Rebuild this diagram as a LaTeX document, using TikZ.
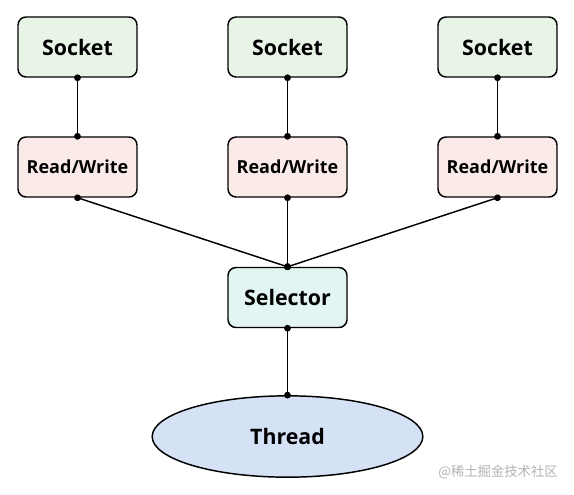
\documentclass[tikz,border=0pt]{standalone}
\usepackage{fontspec}
\setmainfont{Open Sans}
\newfontfamily\cjkfont{Noto Sans CJK SC}
\usepackage{tikz}
\usetikzlibrary{shapes.geometric, arrows.meta}

\definecolor{sockfill}{HTML}{E7F4E6}
\definecolor{rwfill}{HTML}{FBEBE8}
\definecolor{selfill}{HTML}{E3F5F3}
\definecolor{thrfill}{HTML}{D5E1F4}

\tikzset{
    box/.style={draw, line width=1.1pt, rounded corners=6pt, minimum width=89.25pt, minimum height=45pt, font=\bfseries},
    wire/.style={line width=1.1pt, {Circle[length=5pt]}-{Circle[length=5pt]}, shorten <=-2.5pt, shorten >=-2.5pt}
}

\begin{document}
\begin{tikzpicture}[x=0.75pt, y=-0.75pt]
        \useasboundingbox (0, 0) rectangle (574, 494);
        % Nodes:
        \node[box, fill=sockfill, font=\bfseries\fontsize{16}{19}\selectfont](S1) at (77.5, 47){Socket};
        \node[box, fill=sockfill, font=\bfseries\fontsize{16}{19}\selectfont](S2) at (287.5, 47){Socket};
        \node[box, fill=sockfill, font=\bfseries\fontsize{16}{19}\selectfont](S3) at (497.5, 47){Socket};
        \node[box, fill=rwfill, font=\bfseries\fontsize{13.5}{16}\selectfont](RW1) at (77.5, 167){Read/Write};
        \node[box, fill=rwfill, font=\bfseries\fontsize{13.5}{16}\selectfont](RW2) at (287.5, 167){Read/Write};
        \node[box, fill=rwfill, font=\bfseries\fontsize{13.5}{16}\selectfont](RW3) at (497.5, 167){Read/Write};
        \node[box, fill=selfill, font=\bfseries\fontsize{16}{19}\selectfont](Sel) at (287.5, 297.5){Selector};
        \node[ellipse, draw, line width=1.1pt, fill=thrfill, minimum width=203pt, minimum height=61pt, inner sep=0pt, font=\bfseries\fontsize{16}{19}\selectfont](Thr) at (287.5, 436.5){Thread};
        % Wires:
        \draw[wire] (S1.south) -- (RW1.north);
        \draw[wire] (S2.south) -- (RW2.north);
        \draw[wire] (S3.south) -- (RW3.north);
        \draw[wire] (RW1.south) -- (Sel.north);
        \draw[wire] (RW2.south) -- (Sel.north);
        \draw[wire] (RW3.south) -- (Sel.north);
        \draw[wire] (Sel.south) -- (Thr.north);
        % Watermark:
        \node[anchor=east, text=black!30, inner sep=0pt, font=\cjkfont\fontsize{10}{12}\selectfont](WM) at (558, 472){@稀土掘金技术社区};
    \end{tikzpicture}
\end{document}
